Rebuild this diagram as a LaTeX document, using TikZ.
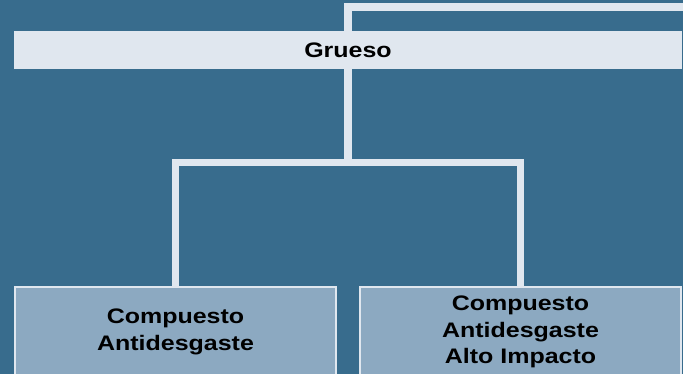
\documentclass[tikz,border=0pt]{standalone}
\usepackage{fontspec}
\setmainfont{Liberation Sans}
\newfontfamily\widesans[FakeStretch=1.19]{Liberation Sans}
\definecolor{bgblue}{HTML}{386C8D}
\definecolor{paleline}{HTML}{E0E7EF}
\definecolor{boxblue}{HTML}{8CA9C1}

\begin{document}
\begin{tikzpicture}[x=1pt, y=-1pt,
        label text/.style={font=\widesans\fontsize{21}{26.5}\selectfont\bfseries, align=center, text=black},
        top box/.style={label text, fill=paleline, minimum width=668pt, minimum height=38pt, inner sep=0pt},
        leaf box/.style={label text, fill=boxblue, draw=paleline, line width=1.2pt, minimum width=321pt, minimum height=90pt, inner sep=0pt},
        link/.style={paleline, line width=7.5pt}]
        \useasboundingbox (0, 0) rectangle (683, 374);
        \fill[bgblue] (0, 0) rectangle (683, 374);

        \node[top box] (grueso) at (348, 50) {Grueso};
        \node[leaf box] (compuesto) at (175.5, 332) {Compuesto\\Antidesgaste};
        \node[leaf box] (impacto) at (520.5, 332) {Compuesto\\Antidesgaste\\Alto Impacto};

        \coordinate (offpage) at (700, 7);
        \coordinate (fork) at (348, 162.5);

        \draw[link] (grueso.north) |- (offpage);
        \draw[link] (grueso.south) -- (fork);
        \draw[link] (compuesto.north) |- (fork) -| (impacto.north);
\end{tikzpicture}
\end{document}
